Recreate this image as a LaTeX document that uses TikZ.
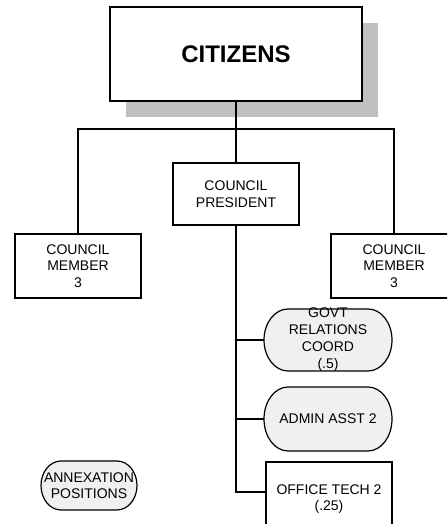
\documentclass[tikz,border=0pt]{standalone}
\usepackage{fontspec}
\setmainfont{Liberation Sans}
\pgfdeclarelayer{bg}
\pgfsetlayers{bg,main}
\definecolor{shadowgray}{HTML}{C0C0C0}
\definecolor{pillfill}{HTML}{F0F0F0}
% pill outline: centre x, centre y, width, height, end radius
\newcommand\drawpill[5]{%
  \draw[pillstyle] ({#1-#3/2+#5},{#2+#4/2}) -- ({#1+#3/2-#5},{#2+#4/2})
    arc[start angle=90,end angle=-90,x radius=#5pt,y radius=#4/2*1pt]
    -- ({#1-#3/2+#5},{#2-#4/2})
    arc[start angle=270,end angle=90,x radius=#5pt,y radius=#4/2*1pt] -- cycle;}
\tikzset{
  every node/.style={font=\fontsize{14}{16.5}\selectfont, align=center, inner sep=0pt},
  box/.style={draw, line width=1.2pt, fill=white, minimum width=126pt, minimum height=62pt},
  pilltext/.style={minimum width=128pt, minimum height=62pt},
  pillstyle/.style={draw, line width=1.2pt, fill=pillfill},
  link/.style={line width=1.2pt},
}
\begin{document}
\begin{tikzpicture}[x=1pt,y=1pt]
\clip (0,0) rectangle (447,524);

% top box with its drop shadow
\fill[shadowgray] (126,407) rectangle (378,501);
\node[box, minimum width=252pt, minimum height=94pt,
      font=\fontsize{24}{28}\selectfont\bfseries] (cit) at (236,470) {CITIZENS};

\node[box] (pres) at (236,330) {COUNCIL\\PRESIDENT};
\node[box, minimum height=64pt] (cml) at (78,258) {COUNCIL\\MEMBER\\3};
\node[box, minimum height=64pt] (cmr) at (394,258) {COUNCIL\\MEMBER\\3};

\coordinate (bus) at (236,395);
\draw[link] (cit.south) -- (pres.north);
\draw[link] (cml.north) |- (bus) -| (cmr.north);

% staff positions under the president
\node[pilltext, font=\fontsize{14}{17}\selectfont] (govt) at (328,184) {GOVT\\RELATIONS\\COORD\\(.5)};
\node[pilltext, minimum height=64pt] (admin) at (328,105) {ADMIN ASST 2};
\node[box, minimum height=74pt] (ot) at (329,25) {OFFICE TECH 2\\(.25)};
\node[minimum width=96pt, minimum height=49pt] (annex) at (89,38.5) {ANNEXATION\\POSITIONS};

\begin{pgfonlayer}{bg}
  \fill[white] (0,0) rectangle (447,524);
  \drawpill{328}{184}{128}{62}{24}
  \drawpill{328}{105}{128}{64}{24}
  \drawpill{89}{38.5}{96}{49}{20}
\end{pgfonlayer}

\draw[link] (pres.south) |- ([yshift=7pt]ot.west);
\draw[link] (pres.south |- govt.west) -- (govt.west);
\draw[link] (pres.south |- admin.west) -- (admin.west);
\end{tikzpicture}
\end{document}
